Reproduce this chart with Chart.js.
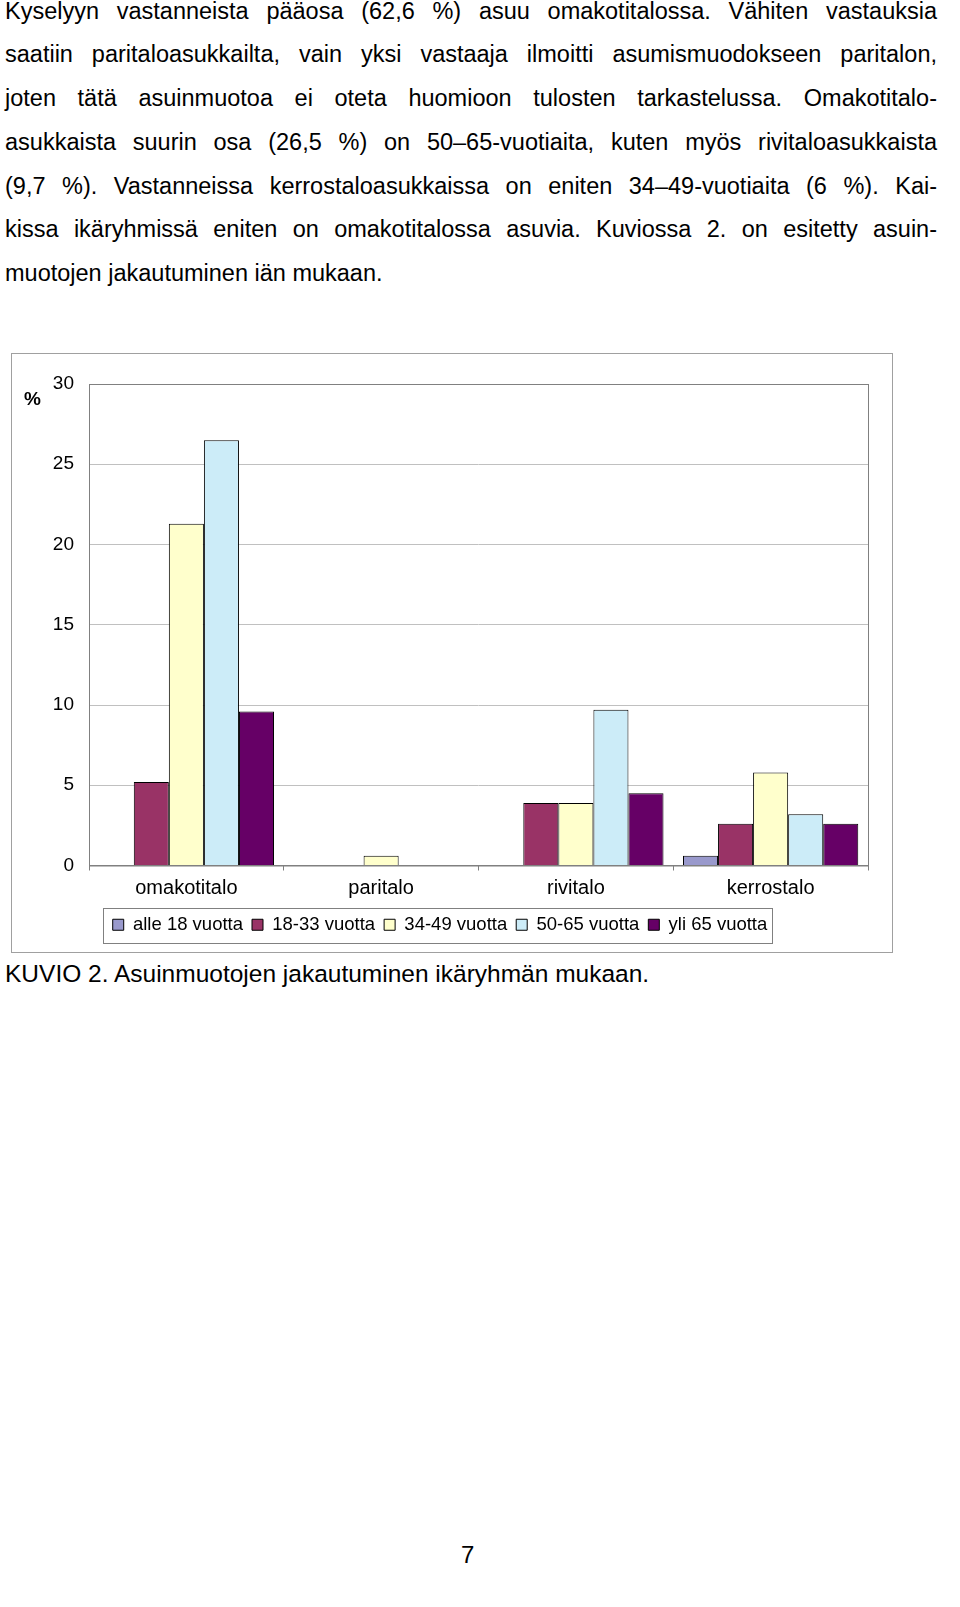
<!DOCTYPE html>
<html><head><meta charset="utf-8">
<script src="https://cdn.jsdelivr.net/npm/chart.js@4/dist/chart.umd.min.js"></script>
<style>
body{margin:0;width:960px;height:1607px;background:#fff;font-family:"Liberation Sans",Arial,sans-serif;color:#000;position:relative}
.ln{position:absolute;left:5px;width:932px;font-size:23.5px;text-align:justify;text-align-last:justify;white-space:nowrap}
.ln.last{text-align-last:left}
#frame{position:absolute;left:11px;top:353px;width:880px;height:598px;border:1px solid #a0a0a0}
#pct{position:absolute;left:24px;top:388px;font-size:19px;font-weight:bold}
#cap{position:absolute;left:5px;top:960px;font-size:24.5px}
#pg{position:absolute;left:461px;top:1541px;font-size:24px}
</style></head><body>
<div class="ln" style="top:-2px">Kyselyyn vastanneista pääosa (62,6 %) asuu omakotitalossa. Vähiten vastauksia</div>
<div class="ln" style="top:41px">saatiin paritaloasukkailta, vain yksi vastaaja ilmoitti asumismuodokseen paritalon,</div>
<div class="ln" style="top:85px">joten tätä asuinmuotoa ei oteta huomioon tulosten tarkastelussa. Omakotitalo-</div>
<div class="ln" style="top:129px">asukkaista suurin osa (26,5 %) on 50–65-vuotiaita, kuten myös rivitaloasukkaista</div>
<div class="ln" style="top:173px">(9,7 %). Vastanneissa kerrostaloasukkaissa on eniten 34–49-vuotiaita (6 %). Kai-</div>
<div class="ln" style="top:216px">kissa ikäryhmissä eniten on omakotitalossa asuvia. Kuviossa 2. on esitetty asuin-</div>
<div class="ln last" style="top:260px">muotojen jakautuminen iän mukaan.</div>
<div id="frame"><canvas id="c" width="880" height="598"></canvas></div>
<div id="pct">%</div>
<div id="cap">KUVIO 2. Asuinmuotojen jakautuminen ikäryhmän mukaan.</div>
<div id="pg">7</div>
<script>
// data
const categories = ['omakotitalo', 'paritalo', 'rivitalo', 'kerrostalo'];
const seriesNames = ['alle 18 vuotta', '18-33 vuotta', '34-49 vuotta', '50-65 vuotta', 'yli 65 vuotta'];
const alle18  = [0, 0, 0, 0.6];
const v18_33  = [5.2, 0, 3.9, 2.6];
const v34_49  = [21.3, 0.6, 3.9, 5.8];
const v50_65  = [26.5, 0, 9.7, 3.2];
const yli65   = [9.6, 0, 4.5, 2.6];
const colors  = ['#9999CC', '#993366', '#FFFFCC', '#CCECF8', '#660066'];
const yTicks  = [0, 5, 10, 15, 20, 25, 30];

const series = [alle18, v18_33, v34_49, v50_65, yli65];

const plotFrame = {
  id: 'plotFrame',
  afterDraw(chart) {
    const { ctx, chartArea: a, legend: l } = chart;
    ctx.save();
    ctx.strokeStyle = '#808080'; ctx.lineWidth = 1;
    ctx.strokeRect(a.left + .5, a.top + .5, a.width, a.height);
    // border around legend items
    const hb = l.legendHitBoxes;
    const x0 = Math.min(...hb.map(b => b.left)) - 10;
    const x1 = Math.max(...hb.map(b => b.left + b.width)) + 4;
    const y0 = hb[0].top - 8, y1 = hb[0].top + hb[0].height + 8;
    ctx.strokeStyle = '#808080';
    ctx.strokeRect(Math.round(x0) + .5, Math.round(y0) + .5, Math.round(x1 - x0), Math.round(y1 - y0));
    ctx.restore();
  }
};

new Chart(document.getElementById('c'), {
  type: 'bar',
  data: {
    labels: categories,
    datasets: series.map((d, i) => ({
      label: seriesNames[i], data: d,
      backgroundColor: colors[i], borderColor: '#000', borderWidth: 1,
      barPercentage: 1, categoryPercentage: 0.9,
    }))
  },
  options: {
    responsive: false, animation: false,
    layout: { padding: { left: 0, right: 24, top: 30, bottom: 8 } },
    plugins: {
      tooltip: { enabled: false },
      legend: {
        position: 'bottom',
        labels: { boxWidth: 11, boxHeight: 11, padding: 9, color: '#000',
                  font: { family: 'Liberation Sans', size: 18.5 } }
      }
    },
    scales: {
      x: {
        grid: { display: true, drawOnChartArea: false, offset: true, color: '#808080', tickLength: 5 },
        border: { color: '#808080' },
        ticks: { color: '#000', font: { family: 'Liberation Sans', size: 20 }, padding: 6 }
      },
      y: {
        min: 0, max: 30,
        afterFit(s) { s.width = 77; },
        afterBuildTicks(s) { s.ticks = yTicks.map(v => ({ value: v })); },
        grid: { color: '#c0c0c0', drawTicks: false },
        border: { display: false },
        ticks: { color: '#000', font: { family: 'Liberation Sans', size: 19 }, padding: 15 }
      }
    }
  },
  plugins: [plotFrame]
});
</script>
</body></html>
